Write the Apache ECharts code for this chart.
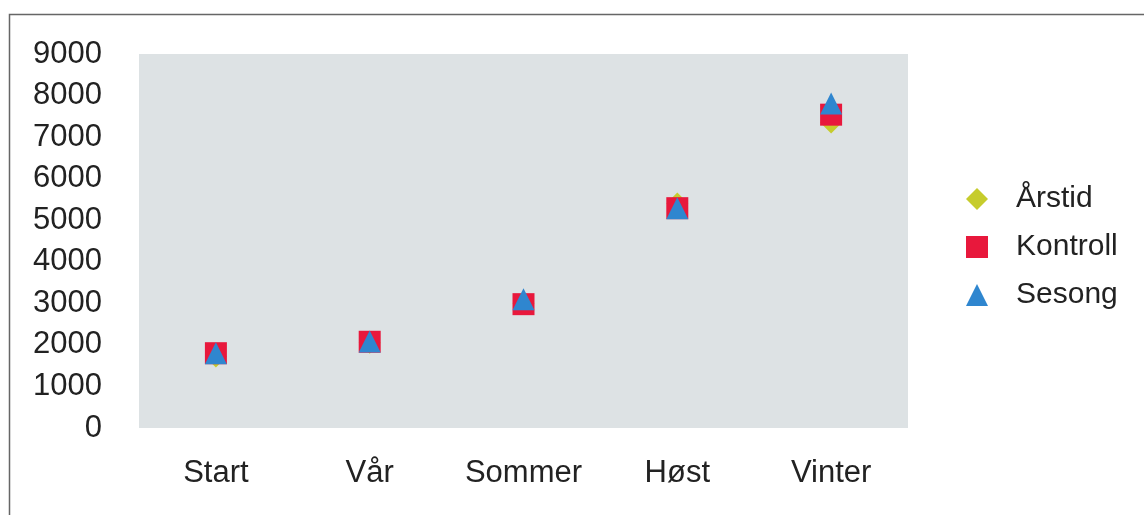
<!DOCTYPE html>
<html>
<head>
<meta charset="utf-8">
<script src="https://cdn.jsdelivr.net/npm/echarts@6/dist/echarts.min.js"></script>
<style>
html,body{margin:0;padding:0;background:#fff;}
#chart{width:1144px;height:515px;}
</style>
</head>
<body>
<div id="chart"></div>
<script>
const categories = ['Start', 'Vår', 'Sommer', 'Høst', 'Vinter'];
const arstid = [1720, 2050, 3000, 5400, 7350];
const kontroll = [1800, 2075, 2980, 5290, 7540];
const sesong = [1800, 2080, 3100, 5290, 7810];
const yTicks = { min: 0, max: 9000, interval: 1000 };

const chart = echarts.init(document.getElementById('chart'), null, { renderer: 'canvas' });
const font = 'Liberation Sans, Arial, sans-serif';
chart.setOption({
  backgroundColor: '#ffffff',
  animation: false,
  graphic: [{
    type: 'rect',
    left: 7, top: 12,
    shape: { width: 1200, height: 600 },
    style: { fill: 'none', stroke: '#666', lineWidth: 1.5 },
    z: -10
  }],
  grid: {
    left: 139, right: 236, top: 54, bottom: 87,
    show: true, backgroundColor: '#dde2e4', borderWidth: 0
  },
  legend: {
    orient: 'vertical',
    left: 961, top: 179,
    itemWidth: 22, itemHeight: 22, itemGap: 18,
    textStyle: { fontFamily: font, fontSize: 30, color: '#222', padding: [0, 0, 0, 23] },
    data: ['Årstid', 'Kontroll', 'Sesong']
  },
  xAxis: {
    type: 'category',
    data: categories,
    boundaryGap: true,
    axisLine: { show: false },
    axisTick: { show: false },
    axisLabel: { fontFamily: font, fontSize: 31, color: '#222', margin: 30 },
    splitLine: { show: false }
  },
  yAxis: {
    type: 'value',
    min: yTicks.min, max: yTicks.max, interval: yTicks.interval,
    axisLine: { show: false },
    axisTick: { show: false },
    axisLabel: { fontFamily: font, fontSize: 31, color: '#222', margin: 37,
      formatter: v => String(v) },
    splitLine: { show: false }
  },
  series: [
    { name: 'Årstid', type: 'scatter', symbol: 'diamond', symbolSize: 22,
      itemStyle: { color: '#c6cc2c', opacity: 1 }, data: arstid },
    { name: 'Kontroll', type: 'scatter', symbol: 'rect', symbolSize: 22,
      itemStyle: { color: '#e8183c', opacity: 1 }, data: kontroll },
    { name: 'Sesong', type: 'scatter', symbol: 'triangle', symbolSize: 22,
      itemStyle: { color: '#2f86cf', opacity: 1 }, data: sesong }
  ]
});
</script>
</body>
</html>
